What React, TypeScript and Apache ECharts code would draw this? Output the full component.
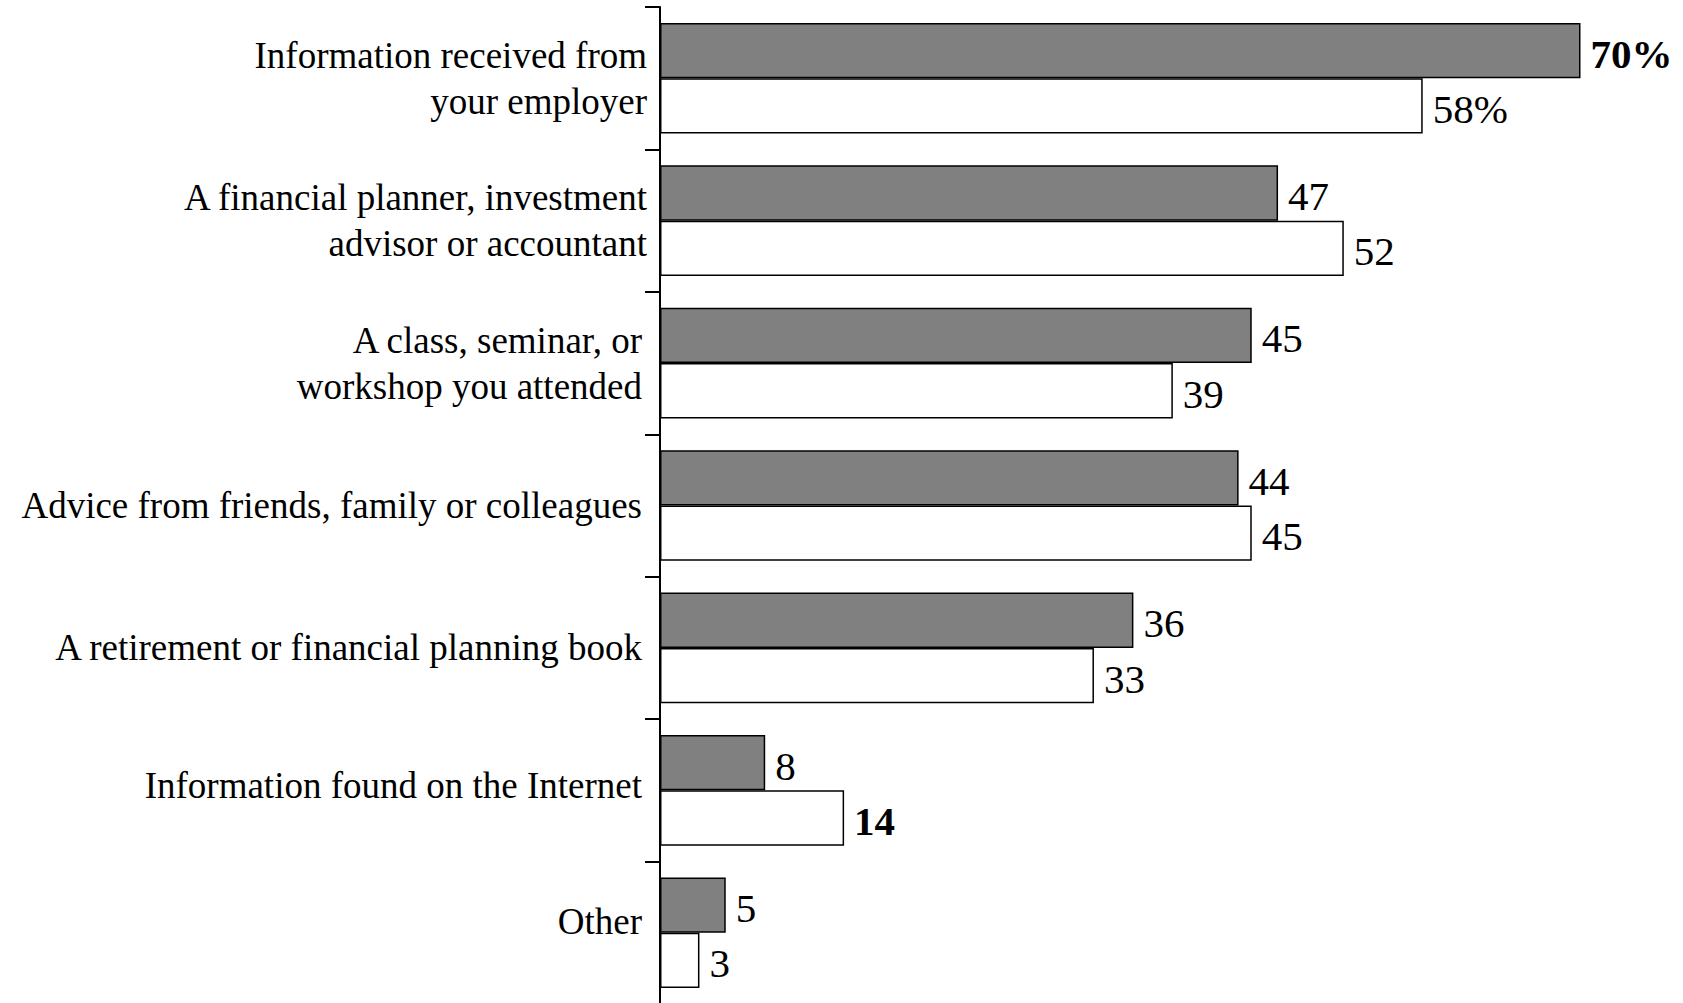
import React, { useEffect, useRef } from "react";
import * as echarts from "echarts";

const categories = [
  "Information received from\nyour employer",
  "A financial planner, investment\nadvisor or accountant",
  "A class, seminar, or\nworkshop you attended",
  "Advice from friends, family or colleagues",
  "A retirement or financial planning book",
  "Information found on the Internet",
  "Other",
];
const seriesGray = [70, 47, 45, 44, 36, 8, 5];
const seriesWhite = [58, 52, 39, 45, 33, 14, 3];
const boldGray = [true, false, false, false, false, false, false];
const boldWhite = [false, false, false, false, false, true, false];
const labelRightPad = [0, 0, 5, 5, 5, 5, 5];
const labelLift = [0, 0, 0, 0, 0, 10, 22];
const percentIndex = 0;

const FONT = "'Times New Roman', 'Liberation Serif', serif";
const UNIT_PX = 13.15;
const X_MAX = 80;

export default function App() {
  const ref = useRef<HTMLDivElement>(null);
  useEffect(() => {
    if (!ref.current) return;
    const chart = echarts.init(ref.current, undefined, { renderer: "svg" });
    const fmt = (p: any) =>
      p.dataIndex === percentIndex ? `${p.value}%` : String(p.value);
    const mk = (vals: number[], bold: boolean[]) =>
      vals.map((v, i) => ({
        value: v,
        label: { fontWeight: bold[i] ? "bold" : "normal" },
      }));
    const rich: Record<string, any> = {};
    labelLift.forEach((h, i) => {
      if (h) rich[`sp${i}`] = { lineHeight: h, fontSize: 1, height: h };
    });
    const labelCfg = {
      show: true,
      position: "right",
      distance: 10,
      offset: [0, 3],
      color: "#000",
      fontFamily: FONT,
      fontSize: 41,
      formatter: fmt,
    };
    chart.setOption({
      animation: false,
      backgroundColor: "#ffffff",
      grid: {
        left: 660,
        top: 7,
        width: X_MAX * UNIT_PX,
        height: 997,
        containLabel: false,
        outerBoundsMode: "none",
      },
      xAxis: {
        type: "value",
        min: 0,
        max: X_MAX,
        show: false,
      },
      yAxis: {
        type: "category",
        inverse: true,
        data: categories.map((c, i) => ({
          value: c,
          textStyle: { padding: [0, labelRightPad[i], 0, 0] },
        })),
        axisLine: { show: true, lineStyle: { color: "#000", width: 2 } },
        axisTick: { show: true, length: 15, lineStyle: { color: "#000", width: 2 } },
        axisLabel: {
          color: "#000",
          fontFamily: FONT,
          fontSize: 37,
          lineHeight: 46,
          margin: 13,
          align: "right",
          formatter: (value: string, index: number) =>
            labelLift[index] ? `${value}\n{sp${index}| }` : value,
          rich,
        },
        splitLine: { show: false },
      },
      series: [
        {
          type: "bar",
          name: "Gray",
          data: mk(seriesGray, boldGray),
          barGap: "0%",
          barCategoryGap: "22.3%",
          itemStyle: { color: "#808080", borderColor: "#000", borderWidth: 1.5 },
          label: labelCfg,
        },
        {
          type: "bar",
          name: "White",
          data: mk(seriesWhite, boldWhite),
          barGap: "0%",
          barCategoryGap: "22.3%",
          itemStyle: { color: "#ffffff", borderColor: "#000", borderWidth: 1.5 },
          label: labelCfg,
        },
      ],
    });
    return () => chart.dispose();
  }, []);
  return (
    <div
      ref={ref}
      style={{ position: "absolute", left: 0, top: 0, width: 1683, height: 1003 }}
    />
  );
}
